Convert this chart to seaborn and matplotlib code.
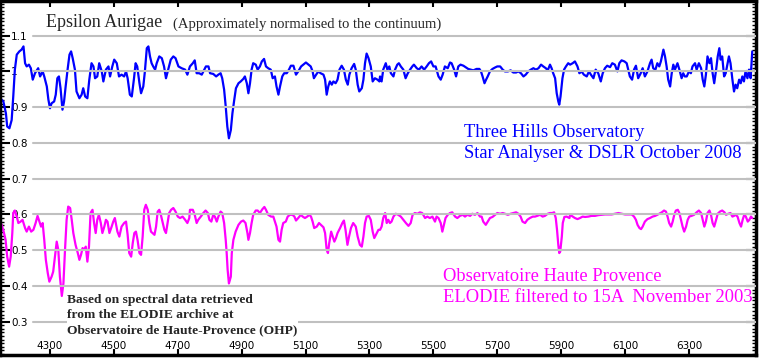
import matplotlib
matplotlib.use("Agg")
from matplotlib import pyplot as plt
from matplotlib.ticker import MultipleLocator
import seaborn as sns

# Three Hills Observatory, Star Analyser + DSLR (Oct 2008), wavelength in Angstrom
blue_wavelength = [
    4144, 4154, 4162, 4166, 4173, 4180, 4185, 4190, 4196, 4204,
    4211, 4217, 4222, 4227, 4234, 4240, 4246, 4253, 4263, 4269,
    4277, 4282, 4290, 4295, 4300, 4305, 4313, 4318, 4323, 4328,
    4333, 4339, 4344, 4349, 4355, 4361, 4366, 4371, 4378, 4383,
    4392, 4399, 4404, 4410, 4417, 4423, 4430, 4436, 4441, 4448,
    4454, 4462, 4467, 4475, 4483, 4488, 4495, 4501, 4509, 4516,
    4524, 4532, 4538, 4543, 4550, 4556, 4563, 4568, 4573, 4580,
    4585, 4592, 4597, 4603, 4608, 4613, 4618, 4623, 4629, 4634,
    4642, 4650, 4657, 4663, 4670, 4678, 4686, 4693, 4702, 4712,
    4723, 4730,
    4738, 4747, 4753, 4759, 4767, 4775, 4780, 4788, 4796, 4801,
    4811, 4820, 4827, 4834, 4839, 4845, 4850, 4855, 4860, 4866,
    4871, 4876, 4882, 4890, 4897, 4905, 4910, 4916, 4921, 4926,
    4931, 4936, 4944, 4950, 4957, 4963, 4970, 4976, 4983, 4991,
    4997, 5004, 5009, 5015, 5020, 5027, 5033, 5041, 5048, 5054,
    5062, 5070, 5077, 5086, 5093, 5101, 5109, 5116, 5122, 5126,
    5133, 5140, 5147, 5156, 5161, 5166, 5171, 5176, 5182, 5187,
    5194, 5200, 5206, 5213, 5220, 5226, 5232, 5237, 5244, 5252,
    5257, 5263, 5268, 5276, 5281, 5286, 5291, 5297, 5304, 5310,
    5317, 5325, 5331,
    5333, 5338, 5343, 5351, 5356, 5362, 5367, 5375, 5380, 5387,
    5392, 5398, 5406, 5413, 5420, 5427, 5434, 5439, 5448, 5455,
    5463, 5471, 5479, 5486, 5493, 5500, 5507, 5516, 5523, 5529,
    5536, 5545, 5552, 5557, 5565, 5571, 5578, 5585, 5594, 5602,
    5609, 5617, 5625, 5635, 5644, 5649, 5654, 5660, 5665, 5670,
    5677, 5685, 5693, 5700, 5709, 5717, 5724, 5733, 5742, 5750,
    5759, 5766, 5774, 5782, 5789, 5797, 5805, 5813, 5821, 5829,
    5837, 5844, 5852, 5858, 5865, 5870, 5875, 5881, 5886, 5891,
    5894, 5898, 5904, 5909, 5915, 5922,
    5928, 5936, 5943, 5951, 5957, 5964, 5971, 5980, 5987, 5993,
    6001, 6008, 6016, 6024, 6030, 6037, 6044, 6053, 6060, 6068,
    6076, 6082, 6089, 6098, 6105, 6110, 6115, 6122, 6128, 6134,
    6141, 6149, 6155, 6162, 6170, 6178, 6183, 6188, 6195, 6201,
    6207, 6212, 6220, 6225, 6230, 6235, 6241, 6246, 6251, 6256,
    6264, 6270, 6277, 6282, 6287, 6293, 6300, 6306, 6311, 6319,
    6324, 6331, 6338, 6343, 6348, 6353, 6358, 6364, 6369, 6374,
    6379, 6385, 6390, 6395, 6399, 6404, 6410, 6415, 6420, 6425,
    6430, 6436, 6441, 6446, 6451, 6457, 6462, 6467, 6472, 6477,
    6483, 6488, 6493, 6498,
]
blue_flux = [
    0.925, 0.916, 0.883, 0.846, 0.841, 0.864, 0.930, 1.005, 1.047, 1.056,
    1.061, 1.070, 1.023, 1.014, 1.019, 1.009, 0.977, 0.995, 1.009, 0.986,
    1.000, 0.986, 0.958, 0.921, 0.897, 0.911, 0.916, 0.935, 0.981, 0.986,
    0.953, 0.893, 0.916, 0.958, 1.005, 1.047, 1.056, 1.037, 1.005, 0.944,
    0.925, 0.935, 0.953, 0.930, 0.925, 0.977, 1.023, 1.014, 0.981, 0.986,
    1.023, 1.000, 0.972, 1.005, 1.014, 0.986, 1.014, 1.033, 1.023, 0.986,
    0.991, 0.986, 1.000, 0.981, 0.935, 0.930, 0.981, 1.023, 1.014, 0.967,
    0.939, 0.958, 1.000, 1.065, 1.070, 1.042, 1.023, 1.014, 1.005, 1.023,
    1.042, 1.037, 1.014, 0.981, 1.005, 1.033, 1.042, 1.037, 1.014, 1.009,
    1.005, 0.991,
    1.014, 1.023, 1.031, 0.995, 0.995, 0.991, 1.000, 1.014, 1.014, 0.995,
    0.993, 0.986, 0.991, 0.995, 0.981, 0.949, 0.902, 0.846, 0.813, 0.836,
    0.883, 0.916, 0.953, 0.967, 0.972, 0.979, 0.986, 0.967, 0.939, 0.967,
    1.005, 1.023, 1.019, 1.005, 1.014, 1.028, 1.035, 1.014, 1.009, 1.005,
    0.981, 0.986, 0.958, 0.935, 0.958, 0.986, 0.995, 0.995, 1.005, 1.016,
    1.016, 0.991, 1.000, 1.014, 1.019, 1.025, 1.019, 1.014, 1.000, 0.981,
    0.991, 1.000, 0.995, 0.991, 0.977, 0.935, 0.958, 0.972, 0.963, 0.972,
    0.967, 0.977, 1.005, 1.016, 1.005, 0.977, 0.963, 0.991, 1.009, 1.021,
    1.005, 0.963, 0.944, 0.953, 0.977, 1.023, 1.050, 1.037, 1.014, 0.972,
    0.981, 0.977, 0.972,
    0.986, 0.972, 1.005, 1.023, 1.005, 1.014, 0.995, 0.986, 1.005, 1.019,
    1.023, 1.014, 1.005, 0.981, 0.995, 1.005, 1.014, 1.019, 1.009, 1.005,
    1.014, 1.005, 1.014, 1.023, 1.028, 1.014, 1.014, 0.986, 0.977, 0.991,
    1.014, 1.009, 1.025, 1.023, 1.005, 0.986, 1.014, 1.019, 1.016, 1.011,
    1.007, 1.005, 1.003, 1.007, 1.007, 1.000, 0.986, 0.967, 0.977, 0.986,
    1.000, 1.007, 1.011, 1.014, 1.014, 1.005, 1.000, 1.000, 1.003, 0.997,
    0.997, 1.000, 0.995, 0.986, 0.991, 1.000, 1.005, 1.009, 1.005, 1.009,
    1.019, 1.014, 1.009, 1.003, 1.019, 1.009, 0.995, 0.981, 0.939, 0.916,
    0.907, 0.930, 0.981, 1.005, 1.014, 1.023,
    1.019, 1.023, 1.028, 1.014, 0.995, 1.000, 0.991, 0.986, 1.000, 0.991,
    0.981, 1.005, 0.995, 0.972, 0.995, 1.009, 1.016, 1.012, 1.023, 1.019,
    1.000, 1.023, 1.031, 1.028, 1.023, 1.005, 0.986, 0.977, 1.005, 1.016,
    0.981, 0.995, 1.009, 0.986, 1.000, 1.023, 1.033, 1.009, 1.005, 1.023,
    1.014, 1.028, 1.061, 1.042, 1.014, 0.977, 0.958, 0.995, 1.019, 1.005,
    1.023, 1.005, 0.981, 0.995, 0.986, 0.986, 1.000, 0.995, 1.014, 1.023,
    1.005, 1.023, 1.009, 0.977, 0.958, 0.991, 1.042, 1.023, 1.037, 0.995,
    0.967, 1.005, 1.042, 1.065, 1.033, 1.042, 0.986, 0.995, 1.019, 1.042,
    1.023, 0.977, 0.944, 0.963, 0.953, 0.977, 0.967, 0.986, 0.972, 1.000,
    0.981, 1.005, 0.981, 1.056,
]

# Observatoire de Haute-Provence, ELODIE filtered to 15A (Nov 2003)
ohp_wavelength = [
    4144, 4149, 4156, 4161, 4166, 4172, 4177, 4182, 4185, 4190,
    4196, 4201, 4208, 4214, 4222, 4227, 4234, 4241, 4248, 4255,
    4261, 4267, 4272, 4277, 4282, 4287, 4293, 4298, 4305, 4310,
    4316, 4321, 4326, 4331, 4337, 4342, 4347, 4352, 4357, 4363,
    4368, 4373, 4380, 4387, 4392, 4397, 4402, 4406, 4412, 4417,
    4422, 4427, 4433, 4438, 4443, 4448, 4453, 4459, 4464, 4470,
    4475, 4480, 4486, 4493, 4498, 4503, 4511, 4517, 4524, 4532,
    4538, 4543, 4548, 4554, 4559, 4564, 4569, 4574, 4580, 4585,
    4590, 4595, 4600, 4606, 4611, 4616, 4621, 4627, 4632, 4637,
    4642, 4647, 4653, 4658, 4663, 4668, 4673, 4679, 4686, 4693,
    4700, 4707, 4715, 4723, 4730, 4736,
    4738, 4747, 4753, 4759, 4764, 4772, 4780, 4787, 4794, 4799,
    4805, 4811, 4816, 4822, 4827, 4834, 4839, 4845, 4850, 4853,
    4856, 4860, 4866, 4869, 4874, 4881, 4890, 4898, 4905, 4912,
    4918, 4921, 4926, 4931, 4936, 4944, 4950, 4957, 4965, 4971,
    4976, 4983, 4992, 4999, 5004, 5009, 5015, 5020, 5025, 5030,
    5038, 5044, 5051, 5059, 5065, 5070, 5077, 5085, 5091, 5098,
    5105, 5112, 5117, 5122, 5127, 5135, 5142, 5148, 5156, 5161,
    5166, 5170, 5174, 5180, 5185, 5190, 5195, 5200, 5208, 5215,
    5220, 5225, 5231, 5236, 5242, 5249, 5257, 5263, 5270, 5276,
    5281, 5286, 5291, 5298, 5304, 5310, 5315, 5320, 5328,
    5333, 5338, 5343, 5349, 5354, 5359, 5364, 5369, 5375, 5382,
    5390, 5398, 5406, 5414, 5422, 5429, 5435, 5442, 5450, 5458,
    5465, 5474, 5481, 5489, 5497, 5505, 5510, 5516, 5523, 5528,
    5533, 5538, 5545, 5552, 5559, 5568, 5575, 5583, 5592, 5599,
    5606, 5615, 5622, 5630, 5638, 5646, 5651, 5656, 5664, 5670,
    5677, 5685, 5693, 5700, 5709, 5717, 5724, 5733, 5742, 5750,
    5759, 5766, 5773, 5779, 5787, 5794, 5802, 5811, 5818, 5825,
    5834, 5842, 5849, 5858, 5865, 5872, 5878, 5883, 5887, 5891,
    5894, 5897, 5902, 5905, 5910, 5917, 5926,
    5928, 5936, 5943, 5951, 5959, 5967, 5975, 5985, 5995, 6006,
    6016, 6027, 6037, 6048, 6058, 6068, 6079, 6089, 6100, 6110,
    6121, 6128, 6134, 6139, 6145, 6150, 6155, 6162, 6170, 6178,
    6186, 6194, 6201, 6207, 6215, 6222, 6228, 6233, 6238, 6244,
    6249, 6254, 6259, 6265, 6270, 6275, 6280, 6285, 6291, 6296,
    6301, 6308, 6316, 6324, 6331, 6338, 6343, 6348, 6353, 6358,
    6364, 6369, 6374, 6379, 6385, 6390, 6397, 6404, 6411, 6416,
    6423, 6430, 6436, 6441, 6446, 6452, 6458, 6463, 6468, 6473,
    6478, 6484, 6489, 6494, 6498,
]
ohp_flux = [
    0.576, 0.571, 0.548, 0.529, 0.482, 0.454, 0.482, 0.548, 0.604, 0.611,
    0.594, 0.576, 0.580, 0.585, 0.562, 0.552, 0.566, 0.552, 0.557, 0.576,
    0.596, 0.580, 0.566, 0.576, 0.529, 0.473, 0.436, 0.412, 0.426, 0.440,
    0.487, 0.524, 0.501, 0.426, 0.372, 0.407, 0.501, 0.585, 0.622, 0.618,
    0.585, 0.548, 0.515, 0.492, 0.473, 0.487, 0.506, 0.501, 0.510, 0.468,
    0.510, 0.604, 0.613, 0.576, 0.548, 0.585, 0.599, 0.576, 0.548, 0.566,
    0.585, 0.580, 0.548, 0.566, 0.580, 0.590, 0.552, 0.538, 0.566, 0.576,
    0.580, 0.543, 0.492, 0.482, 0.520, 0.548, 0.552, 0.529, 0.492, 0.487,
    0.538, 0.613, 0.627, 0.613, 0.576, 0.552, 0.548, 0.543, 0.566, 0.608,
    0.613, 0.599, 0.576, 0.557, 0.548, 0.576, 0.604, 0.613, 0.618, 0.608,
    0.594, 0.590, 0.594, 0.585, 0.576, 0.590,
    0.613, 0.613, 0.599, 0.576, 0.585, 0.594, 0.604, 0.611, 0.604, 0.585,
    0.580, 0.599, 0.594, 0.580, 0.594, 0.608, 0.604, 0.576, 0.529, 0.492,
    0.445, 0.407, 0.426, 0.492, 0.529, 0.552, 0.571, 0.580, 0.583, 0.576,
    0.548, 0.529, 0.548, 0.576, 0.599, 0.611, 0.611, 0.604, 0.615, 0.621,
    0.613, 0.599, 0.594, 0.594, 0.580, 0.566, 0.529, 0.524, 0.557, 0.576,
    0.580, 0.594, 0.599, 0.599, 0.594, 0.583, 0.590, 0.599, 0.594, 0.590,
    0.594, 0.599, 0.594, 0.580, 0.562, 0.566, 0.576, 0.571, 0.564, 0.548,
    0.501, 0.492, 0.520, 0.552, 0.538, 0.524, 0.534, 0.548, 0.562, 0.576,
    0.583, 0.557, 0.515, 0.538, 0.562, 0.576, 0.566, 0.538, 0.515, 0.510,
    0.538, 0.576, 0.594, 0.596, 0.585, 0.552, 0.534, 0.543, 0.557,
    0.557, 0.566, 0.590, 0.604, 0.576, 0.585, 0.576, 0.580, 0.594, 0.602,
    0.599, 0.594, 0.585, 0.576, 0.568, 0.576, 0.599, 0.604, 0.602, 0.606,
    0.604, 0.590, 0.594, 0.590, 0.594, 0.580, 0.594, 0.590, 0.576, 0.552,
    0.571, 0.590, 0.599, 0.604, 0.606, 0.594, 0.590, 0.596, 0.599, 0.594,
    0.599, 0.596, 0.602, 0.599, 0.604, 0.594, 0.594, 0.580, 0.571, 0.580,
    0.590, 0.593, 0.599, 0.604, 0.602, 0.604, 0.602, 0.599, 0.602, 0.604,
    0.606, 0.602, 0.594, 0.580, 0.576, 0.585, 0.590, 0.594, 0.594, 0.596,
    0.599, 0.594, 0.596, 0.602, 0.604, 0.604, 0.606, 0.590, 0.557, 0.515,
    0.492, 0.496, 0.538, 0.576, 0.593, 0.594, 0.590,
    0.599, 0.594, 0.590, 0.587, 0.590, 0.594, 0.593, 0.594, 0.596, 0.596,
    0.598, 0.599, 0.600, 0.600, 0.600, 0.602, 0.604, 0.602, 0.600, 0.600,
    0.600, 0.594, 0.585, 0.571, 0.562, 0.559, 0.566, 0.580, 0.587, 0.590,
    0.594, 0.596, 0.599, 0.602, 0.606, 0.611, 0.608, 0.594, 0.576, 0.566,
    0.580, 0.599, 0.611, 0.613, 0.604, 0.585, 0.566, 0.552, 0.566, 0.585,
    0.594, 0.596, 0.599, 0.606, 0.611, 0.604, 0.585, 0.566, 0.580, 0.604,
    0.611, 0.599, 0.576, 0.566, 0.585, 0.602, 0.608, 0.611, 0.606, 0.599,
    0.602, 0.604, 0.594, 0.596, 0.599, 0.594, 0.576, 0.566, 0.585, 0.599,
    0.594, 0.580, 0.585, 0.594, 0.590,
]

x_ticks = [4300, 4500, 4700, 4900, 5100, 5300, 5500, 5700, 5900, 6100, 6300]
y_ticks = [0.3, 0.4, 0.5, 0.6, 0.7, 0.8, 0.9, 1.0, 1.1]
y_tick_labels = ["0.3", "0.4", "0.5", "0.6", "0.7", "0.8", "0.9", "1", "1.1"]

BLUE = "#0000ff"
MAGENTA = "#ff00ff"
GRID = "#c0c0c0"
SERIF = ["Liberation Serif", "DejaVu Serif"]

sns.set_style("white")
plt.rcParams["font.family"] = ["DejaVu Sans"]

fig = plt.figure(figsize=(7.6, 3.58), dpi=100)
ax = fig.add_axes([0.0, 3 / 358, 756 / 760, 354 / 358])

sns.lineplot(x=blue_wavelength, y=blue_flux, ax=ax, color=BLUE, linewidth=1.6, zorder=2)
sns.lineplot(x=ohp_wavelength, y=ohp_flux, ax=ax, color=MAGENTA, linewidth=1.6, zorder=2)

ax.set_xlim(4143.5, 6509.8)
ax.set_ylim(0.2069, 1.197)

# gridlines start just right of the in-frame tick labels
for yv in y_ticks:
    ax.axhline(yv, xmin=33 / 756, xmax=1, color=GRID, linewidth=1.5, zorder=3)

ax.set_xticks(x_ticks)
ax.set_xticklabels([str(t) for t in x_ticks])
ax.set_yticks(y_ticks)
ax.set_yticklabels(y_tick_labels)
ax.yaxis.set_minor_locator(MultipleLocator(0.01))
ax.tick_params(axis="both", which="both", direction="in",
               top=True, bottom=True, left=True, right=True, colors="black")
ax.tick_params(axis="x", which="major", length=4, width=1.5, pad=-10.3, labelsize=7.5)
ax.tick_params(axis="y", which="major", length=7, width=1.5, pad=-8, labelsize=7.5)
ax.tick_params(axis="y", which="minor", length=3, width=1)
for lab in ax.get_yticklabels():
    lab.set_horizontalalignment("left")
ax.xaxis.set_zorder(6)
ax.set_xlabel("")
ax.set_ylabel("")

for s in ax.spines.values():
    s.set_color("black")
    s.set_linewidth(2.5)

ax.text(4287.5, 1.123, "Epsilon Aurigae", family=SERIF, fontsize=13,
        va="baseline", zorder=5)
ax.text(4685, 1.123, "(Approximately normalised to the continuum)", family=SERIF,
        fontsize=10.5, va="baseline", zorder=5)

ax.text(5596, 0.8166, "Three Hills Observatory", family=SERIF, fontsize=13.3,
        color=BLUE, va="baseline", zorder=5)
ax.text(5596, 0.7587, "Star Analyser & DSLR October 2008", family=SERIF,
        fontsize=13.3, color=BLUE, va="baseline", zorder=5)

ax.text(5530, 0.4147, "Observatoire Haute Provence", family=SERIF, fontsize=13.3,
        color=MAGENTA, va="baseline", zorder=5)
ax.text(5530, 0.356, "ELODIE filtered to 15A  November 2003", family=SERIF,
        fontsize=13.3, color=MAGENTA, va="baseline", zorder=5)

credit = "\n".join([
    "Based on spectral data retrieved",
    "from the ELODIE archive at",
    "Observatoire de Haute-Provence (OHP)",
])
ax.text(4353, 0.378, credit, family=SERIF, fontsize=9.7, fontweight="bold",
        va="top", ha="left", linespacing=1.38, zorder=5,
        bbox=dict(facecolor="white", edgecolor="none", pad=0.2))

fig.savefig("out.png", dpi=100)
